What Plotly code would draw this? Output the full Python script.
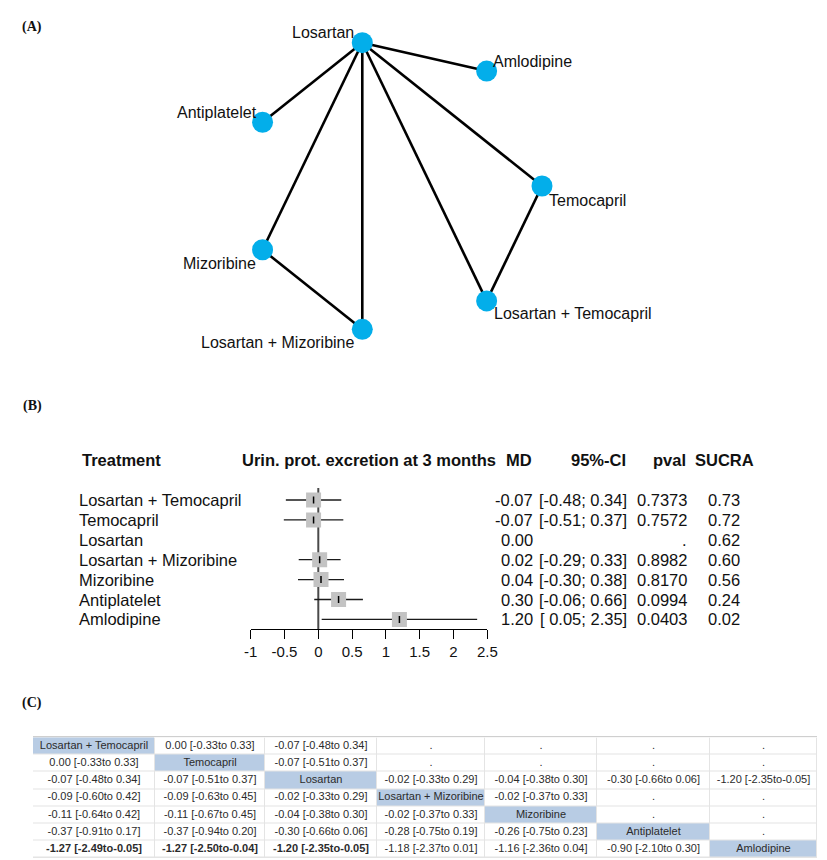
import math
import plotly.graph_objects as go

# ---------------- data ----------------
network_nodes = ["Temocapril", "Amlodipine", "Losartan", "Antiplatelet",
                 "Mizoribine", "Losartan + Mizoribine", "Losartan + Temocapril"]
network_edges = [("Losartan", "Amlodipine"), ("Losartan", "Antiplatelet"),
                 ("Losartan", "Temocapril"), ("Losartan", "Mizoribine"),
                 ("Losartan", "Losartan + Temocapril"), ("Losartan", "Losartan + Mizoribine"),
                 ("Temocapril", "Losartan + Temocapril"), ("Mizoribine", "Losartan + Mizoribine")]

forest_treatments = ["Losartan + Temocapril", "Temocapril", "Losartan", "Losartan + Mizoribine",
                     "Mizoribine", "Antiplatelet", "Amlodipine"]
forest_md = [-0.07, -0.07, 0.00, 0.02, 0.04, 0.30, 1.20]
forest_lower = [-0.48, -0.51, None, -0.29, -0.30, -0.06, 0.05]
forest_upper = [0.34, 0.37, None, 0.33, 0.38, 0.66, 2.35]
forest_pval = ["0.7373", "0.7572", ".", "0.8982", "0.8170", "0.0994", "0.0403"]
forest_sucra = [0.73, 0.72, 0.62, 0.60, 0.56, 0.24, 0.02]
forest_ticks = [-1, -0.5, 0, 0.5, 1, 1.5, 2, 2.5]
forest_ticklabels = ["-1", "-0.5", "0", "0.5", "1", "1.5", "2", "2.5"]
forest_title = "Urin. prot. excretion at 3 months"

league_rows = [
    ["Losartan + Temocapril", "0.00 [-0.33to 0.33]", "-0.07 [-0.48to 0.34]", ".", ".", ".", "."],
    ["0.00 [-0.33to 0.33]", "Temocapril", "-0.07 [-0.51to 0.37]", ".", ".", ".", "."],
    ["-0.07 [-0.48to 0.34]", "-0.07 [-0.51to 0.37]", "Losartan", "-0.02 [-0.33to 0.29]",
     "-0.04 [-0.38to 0.30]", "-0.30 [-0.66to 0.06]", "-1.20 [-2.35to-0.05]"],
    ["-0.09 [-0.60to 0.42]", "-0.09 [-0.63to 0.45]", "-0.02 [-0.33to 0.29]", "Losartan + Mizoribine",
     "-0.02 [-0.37to 0.33]", ".", "."],
    ["-0.11 [-0.64to 0.42]", "-0.11 [-0.67to 0.45]", "-0.04 [-0.38to 0.30]", "-0.02 [-0.37to 0.33]",
     "Mizoribine", ".", "."],
    ["-0.37 [-0.91to 0.17]", "-0.37 [-0.94to 0.20]", "-0.30 [-0.66to 0.06]", "-0.28 [-0.75to 0.19]",
     "-0.26 [-0.75to 0.23]", "Antiplatelet", "."],
    ["-1.27 [-2.49to-0.05]", "-1.27 [-2.50to-0.04]", "-1.20 [-2.35to-0.05]", "-1.18 [-2.37to 0.01]",
     "-1.16 [-2.36to 0.04]", "-0.90 [-2.10to 0.30]", "Amlodipine"],
]
league_bold = [(6, 0), (6, 1), (6, 2)]

# ---------------- styling ----------------
W, H = 827, 860
FONT = "Liberation Sans, Arial, sans-serif"
SERIF = "Liberation Serif, Times New Roman, serif"
NODE_COLOR = "#03aeea"
HILITE = "#b8cce4"

def px(x):
    return x / W

def py(y):
    return 1 - y / H

fig = go.Figure()

# ---------------- Panel A: network ----------------
R = 147
n = len(network_nodes)
pos = {name: (R * math.cos(2 * math.pi * k / n), R * math.sin(2 * math.pi * k / n))
       for k, name in enumerate(network_nodes)}

ex, ey = [], []
for a, b in network_edges:
    ex += [pos[a][0], pos[b][0], None]
    ey += [pos[a][1], pos[b][1], None]
fig.add_trace(go.Scatter(x=ex, y=ey, mode="lines", line=dict(color="black", width=2.6),
                         xaxis="x", yaxis="y", hoverinfo="skip"))
fig.add_trace(go.Scatter(x=[pos[k][0] for k in network_nodes], y=[pos[k][1] for k in network_nodes],
                         mode="markers", marker=dict(size=21, color=NODE_COLOR),
                         text=network_nodes, xaxis="x", yaxis="y", hoverinfo="text"))

label_style = {
    "Temocapril": ("left", 5, -14),
    "Amlodipine": ("left", 4, 10),
    "Losartan": ("right", -6, 10),
    "Antiplatelet": ("right", -4, 10),
    "Mizoribine": ("right", -5, -14),
    "Losartan + Mizoribine": ("right", -5, -13),
    "Losartan + Temocapril": ("left", 5, -13),
}
for name in network_nodes:
    anc, dx, dy = label_style[name]
    fig.add_annotation(x=pos[name][0], y=pos[name][1], xref="x", yref="y", text=name,
                       showarrow=False, xanchor=anc, yanchor="middle", xshift=dx, yshift=dy,
                       font=dict(family=FONT, size=16, color="#111"))

# ---------------- Panel B: forest plot ----------------
rows = list(range(len(forest_treatments)))
lx, ly = [], []
for i in rows:
    if forest_lower[i] is not None:
        lx += [forest_lower[i], forest_upper[i], None]
        ly += [i, i, None]
fig.add_trace(go.Scatter(x=lx, y=ly, mode="lines", line=dict(color="#1a1a1a", width=1.3),
                         xaxis="x2", yaxis="y2", hoverinfo="skip"))
sq_x = [forest_md[i] for i in rows if forest_lower[i] is not None]
sq_y = [i for i in rows if forest_lower[i] is not None]
fig.add_trace(go.Scatter(x=sq_x, y=sq_y, mode="markers",
                         marker=dict(symbol="square", size=15, color="#c3c3c3"),
                         xaxis="x2", yaxis="y2", hoverinfo="skip"))
fig.add_trace(go.Scatter(x=sq_x, y=sq_y, mode="markers",
                         marker=dict(symbol="line-ns", size=5, line=dict(color="black", width=1.5)),
                         xaxis="x2", yaxis="y2", hoverinfo="skip"))

fig.add_shape(type="line", xref="x2", yref="y2", x0=0, x1=0, y0=-0.6, y1=6.482,
              line=dict(color="#4a4a4a", width=2), layer="below")

hdr_font = dict(family=FONT, size=16.5, color="#111")
txt_font = dict(family=FONT, size=16.5, color="#111")
HY = py(460)
for text, xx, anc in [("Treatment", 80, "left"), (forest_title, 240, "left"), ("MD", 534, "right"),
                      ("95%-CI", 628, "right"), ("pval", 688, "right"), ("SUCRA", 756, "right")]:
    fig.add_annotation(x=px(xx), y=HY, xref="paper", yref="paper", text=f"<b>{text}</b>",
                       showarrow=False, xanchor=anc, yanchor="middle", font=hdr_font)

for i in rows:
    fig.add_annotation(x=px(77), y=i, xref="paper", yref="y2", text=forest_treatments[i],
                       showarrow=False, xanchor="left", font=txt_font)
    fig.add_annotation(x=px(535), y=i, xref="paper", yref="y2", text=f"{forest_md[i]:.2f}",
                       showarrow=False, xanchor="right", font=txt_font)
    if forest_lower[i] is not None:
        lo = f"{forest_lower[i]:.2f}"
        if forest_lower[i] >= 0:
            lo = " " + lo
        ci = f"[{lo}; {forest_upper[i]:.2f}]"
        fig.add_annotation(x=px(629), y=i, xref="paper", yref="y2", text=ci,
                           showarrow=False, xanchor="right", font=txt_font)
    fig.add_annotation(x=px(689), y=i, xref="paper", yref="y2", text=forest_pval[i],
                       showarrow=False, xanchor="right", font=txt_font)
    fig.add_annotation(x=px(742), y=i, xref="paper", yref="y2", text=f"{forest_sucra[i]:.2f}",
                       showarrow=False, xanchor="right", font=txt_font)

# ---------------- Panel C: league table ----------------
nrow = len(league_rows)
ncol = len(league_rows[0])
col_edges = [33, 155, 265, 377, 485, 597, 710, 817]
ROW_TOP, ROW_H = 737.5, 17.2
row_edges = [ROW_TOP + ROW_H * r for r in range(nrow + 1)]
col_mid = [(col_edges[c] + col_edges[c + 1]) / 2 for c in range(ncol)]
row_mid = [(row_edges[r] + row_edges[r + 1]) / 2 for r in range(nrow)]

fig.add_shape(type="rect", xref="x3", yref="y3", x0=col_edges[0], x1=col_edges[-1],
              y0=row_edges[0], y1=row_edges[-1], fillcolor="#e4e4e4", line=dict(width=0),
              layer="below")
z = [[1 if r == c else 0 for c in range(ncol)] for r in range(nrow)]
fig.add_trace(go.Heatmap(x=col_edges, y=row_edges, z=z, xaxis="x3", yaxis="y3",
                         colorscale=[[0, "white"], [1, HILITE]], zmin=0, zmax=1,
                         showscale=False, xgap=1, ygap=1, hoverinfo="skip"))
tx, ty, tt = [], [], []
for r in range(nrow):
    for c in range(ncol):
        t = league_rows[r][c]
        tx.append(col_mid[c])
        ty.append(row_mid[r])
        tt.append(f"<b>{t}</b>" if (r, c) in league_bold else t)
fig.add_trace(go.Scatter(x=tx, y=ty, text=tt, mode="text", xaxis="x3", yaxis="y3",
                         textfont=dict(family=FONT, size=11, color="#2b2b2b"),
                         textposition="middle center", hoverinfo="skip"))
fig.add_shape(type="line", xref="x3", yref="y3", x0=col_edges[0], x1=col_edges[-1],
              y0=row_edges[0] - 1, y1=row_edges[0] - 1, line=dict(color="#cfcfcf", width=1))

# ---------------- panel letters ----------------
for lab, yy in [("(A)", 27), ("(B)", 406), ("(C)", 703)]:
    fig.add_annotation(x=px(32), y=py(yy), xref="paper", yref="paper", text=f"<b>{lab}</b>",
                       showarrow=False, xanchor="center", yanchor="middle",
                       font=dict(family=SERIF, size=14, color="#111"))

hidden = dict(visible=False, showgrid=False, zeroline=False, fixedrange=True)
fig.update_layout(
    width=W, height=H, margin=dict(l=0, r=0, t=0, b=0, pad=0, autoexpand=False), autosize=False,
    paper_bgcolor="white", plot_bgcolor="rgba(0,0,0,0)", showlegend=False,
    xaxis=dict(domain=[0, 1], range=[-395, W - 395], **hidden),
    yaxis=dict(domain=[0, 1], range=[186 - H, 186], **hidden),
    xaxis2=dict(domain=[px(250.7), px(487.3)], range=[-1, 2.5], anchor="y2",
                showline=True, linecolor="black", linewidth=1, ticks="outside", ticklen=9,
                tickwidth=1, tickcolor="black", tickvals=forest_ticks, ticktext=forest_ticklabels,
                tickfont=dict(family=FONT, size=15, color="#111"), showgrid=False, zeroline=False),
    yaxis2=dict(domain=[py(629), py(470)], range=[6.482, -1.508], anchor="x2", **hidden),
    xaxis3=dict(domain=[0, 1], range=[0, W], anchor="y3", **hidden),
    yaxis3=dict(domain=[0, 1], range=[H, 0], anchor="x3", **hidden),
)

fig.write_html("out.html", config={"displayModeBar": False, "responsive": False},
               post_script="document.body.style.margin='0';document.body.style.overflow='hidden';")
